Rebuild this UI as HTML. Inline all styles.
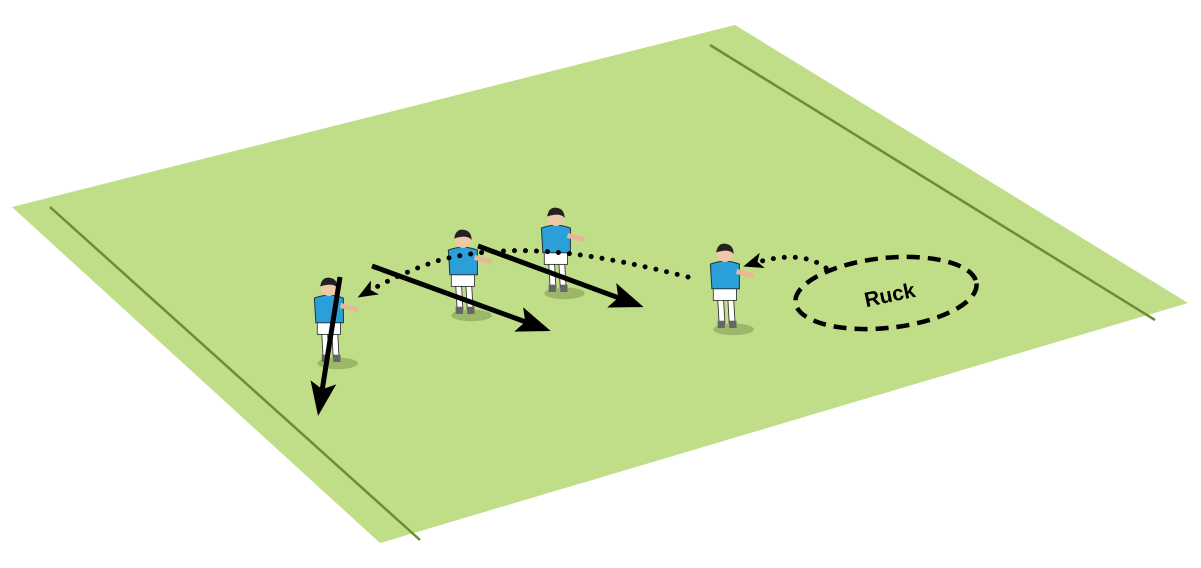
<!DOCTYPE html>
<html><head><style>html,body{margin:0;padding:0;background:#fff;}svg{display:block}</style></head>
<body>
<svg width="1201" height="568" viewBox="0 0 1201 568" xmlns="http://www.w3.org/2000/svg">
<defs>
<marker id="ah" markerWidth="36" markerHeight="28" refX="28" refY="14" orient="auto" markerUnits="userSpaceOnUse" overflow="visible"><path d="M0,1 L34,14 L0,27 L7,14z" fill="#000"/></marker>
<marker id="ahs" markerWidth="22" markerHeight="18" refX="15" refY="9" orient="auto" markerUnits="userSpaceOnUse" overflow="visible"><path d="M0,1 L20,9 L0,17 L5,9z" fill="#000"/></marker>
<g id="pl" transform="scale(1.45)">
<ellipse cx="8" cy="52" rx="14" ry="4" fill="#9bb86a"/>
<path d="M-3,30 L1,30 L2,48 L-2,48z" fill="#fff" stroke="#333" stroke-width="0.6"/>
<path d="M4,30 L8,30 L9,48 L5,48z" fill="#fff" stroke="#333" stroke-width="0.6"/>
<rect x="-3" y="46" width="5" height="5" fill="#666"/>
<rect x="5" y="46" width="5" height="5" fill="#666"/>
<rect x="-6" y="22" width="16" height="10" fill="#fff" stroke="#333" stroke-width="0.6"/>
<path d="M-8,7 Q2,3 12,7 L12,24 L-7,24z" fill="#2a9fd8" stroke="#234" stroke-width="0.7"/>
<path d="M10,12 L22,15" stroke="#e8b896" stroke-width="3.5"/>
<circle cx="2" cy="0" r="5.5" fill="#f0c8a8"/>
<path d="M-4,-1 Q-3,-8 3,-7 Q8,-6 8,0 Q5,-4 -4,-1z" fill="#222"/>
</g>
</defs>
<polygon points="12,207 735,25 1188,303 380,543" fill="#c0dd88"/>
<line x1="50" y1="207" x2="420" y2="540" stroke="#6a8f30" stroke-width="2.5"/>
<line x1="710" y1="45" x2="1155" y2="320" stroke="#6a8f30" stroke-width="2.5"/>
<use href="#pl" x="326" y="288"/>
<use href="#pl" x="460" y="240"/>
<use href="#pl" x="553" y="218"/>
<use href="#pl" x="722" y="254"/>
<line x1="340" y1="277" x2="319" y2="410" stroke="#000" stroke-width="5" marker-end="url(#ah)"/>
<line x1="372" y1="266" x2="545" y2="329" stroke="#000" stroke-width="5" marker-end="url(#ah)"/>
<line x1="478" y1="246" x2="638" y2="305" stroke="#000" stroke-width="5" marker-end="url(#ah)"/>
<path d="M688,277 C600,255 520,240 440,260 Q400,273 362,295" fill="none" stroke="#000" stroke-width="5" stroke-dasharray="0 11" stroke-linecap="round" marker-end="url(#ahs)"/>
<path d="M826,268 Q800,248 748,265" fill="none" stroke="#000" stroke-width="5" stroke-dasharray="0 11" stroke-linecap="round" marker-end="url(#ahs)"/>
<ellipse cx="886" cy="293" rx="91" ry="35" transform="rotate(-6 886 293)" fill="none" stroke="#000" stroke-width="4.5" stroke-dasharray="13 8"/>
<text x="890" y="302" font-family="Liberation Sans, sans-serif" font-weight="bold" font-size="21" text-anchor="middle" transform="rotate(-12 890 296)">Ruck</text>
</svg>
</body></html>
